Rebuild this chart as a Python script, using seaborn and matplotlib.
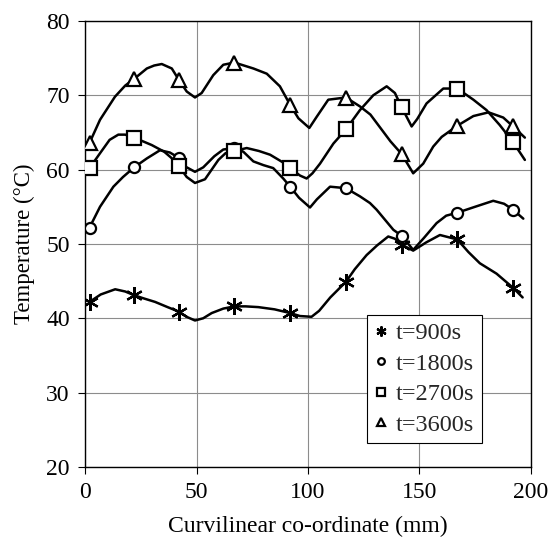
import numpy as np
import pandas as pd
import seaborn as sns
import matplotlib.pyplot as plt

x_marks = [2, 22, 42, 67, 92, 117, 142, 167, 192]
t900_marks = [42.2, 43.1, 40.9, 41.6, 40.7, 44.9, 49.9, 50.6, 44.1]
t1800_marks = [52.2, 60.3, 61.6, 62.9, 57.7, 57.5, 51.1, 54.2, 54.6]
t2700_marks = [60.2, 64.3, 60.5, 62.5, 60.2, 65.4, 68.4, 70.9, 63.7]
t3600_marks = [63.6, 72.2, 72.1, 74.4, 68.7, 69.6, 62.1, 65.9, 65.8]

t900_curve_x = [2, 7, 13.5, 18, 22, 26, 31.4, 37, 42, 45.5, 49.3, 53, 56.8, 62, 67, 72,
                77.7, 85, 92, 96.4, 101.6, 105, 110, 117, 121, 126.3, 131, 136, 139, 142,
                147.2, 153, 159.2, 167, 172, 177.1, 184.6, 192, 196.3]
t900_curve_y = [42.2, 43.2, 43.9, 43.6, 43.1, 42.7, 42.2, 41.5, 40.9, 40.2, 39.7, 40.0, 40.7,
                41.3, 41.6, 41.6, 41.5, 41.2, 40.7, 40.3, 40.2, 41.0, 42.8, 44.9, 46.6, 48.5,
                49.8, 51.0, 50.7, 49.9, 49.1, 50.2, 51.2, 50.6, 48.9, 47.4, 46.0, 44.1, 42.8]

t1800_curve_x = [2, 6.7, 12.7, 17, 22, 27.7, 33.6, 38, 42, 45, 49.3, 53, 58, 62, 67, 71,
                 75.5, 80, 84.4, 88.9, 92, 96, 100.9, 104, 109.9, 117, 123.3, 127.8, 130.8,
                 138.3, 142, 147.2, 152, 157.7, 162, 167, 175, 183.1, 188, 192, 196.6]
t1800_curve_y = [52.2, 55.0, 57.7, 59.0, 60.3, 61.5, 62.6, 62.3, 61.6, 60.4, 59.7, 60.3, 61.8,
                 62.7, 62.9, 62.4, 61.1, 60.6, 60.2, 58.8, 57.7, 56.2, 54.9, 56.0, 57.7, 57.5,
                 56.4, 55.5, 54.6, 51.9, 51.1, 49.2, 50.8, 52.8, 53.8, 54.2, 55.0, 55.8, 55.4,
                 54.6, 53.4]

t2700_curve_x = [2, 6.7, 11, 14.9, 18, 22, 29.9, 35.5, 39, 42, 45.6, 49.3, 53.8, 59.8, 63, 67,
                 72.5, 78, 83, 89.7, 92, 96.4, 99.4, 102, 105.4, 111.4, 117, 123.3, 129.3,
                 135.3, 139, 142, 146.5, 149, 153.2, 160.7, 167, 174.2, 180.1, 186, 192, 197.3]
t2700_curve_y = [60.2, 62.2, 64.0, 64.7, 64.7, 64.3, 63.3, 62.4, 61.5, 60.5, 59.0, 58.2, 58.7,
                 61.3, 62.2, 62.5, 62.9, 62.5, 62.0, 60.8, 60.2, 59.2, 58.8, 59.5, 60.8, 63.5,
                 65.4, 68.0, 70.0, 71.2, 70.3, 68.4, 65.8, 66.8, 68.9, 70.9, 70.9, 69.4, 68.0,
                 66.0, 63.7, 61.3]

t3600_curve_x = [2, 6.7, 13.4, 18, 22, 27.7, 31, 34.4, 38.9, 42, 45.6, 49.3, 52.3, 57.5, 62, 67,
                 75.5, 81.5, 87.4, 92, 95.7, 100.6, 103.9, 109.1, 117, 123.3, 128, 132.5, 137,
                 142, 147.2, 151.7, 156.2, 160, 167, 174.2, 181, 187.6, 192, 197.3]
t3600_curve_y = [63.6, 66.7, 69.8, 71.3, 72.2, 73.6, 74.0, 74.2, 73.6, 72.1, 70.5, 69.7, 70.3,
                 72.7, 74.1, 74.4, 73.6, 72.9, 71.2, 68.7, 66.9, 65.6, 67.1, 69.4, 69.7, 68.5,
                 67.4, 65.6, 63.8, 62.1, 59.5, 60.8, 63.1, 64.4, 65.9, 67.2, 67.7, 67.0, 65.8,
                 64.3]

labels = ["t=900s", "t=1800s", "t=2700s", "t=3600s"]
marks = [t900_marks, t1800_marks, t2700_marks, t3600_marks]
curves = [(t900_curve_x, t900_curve_y), (t1800_curve_x, t1800_curve_y),
          (t2700_curve_x, t2700_curve_y), (t3600_curve_x, t3600_curve_y)]
# asterisco, círculo, quadrado, triângulo
marker_styles = [((6, 2, 0), 12), ("o", 8), ("s", 10), ("^", 10)]

sns.set_theme(style="white")
plt.rcParams['font.family'] = ['Liberation Serif', 'DejaVu Serif']

fig, ax = plt.subplots(figsize=(5.49, 5.5), dpi=100)
fig.subplots_adjust(left=0.155, right=0.967, top=0.962, bottom=0.151)

for (cx, cy), ys, lab, (m, ms) in zip(curves, marks, labels, marker_styles):
    df_curva = pd.DataFrame({"x": cx, "y": cy})
    sns.lineplot(data=df_curva, x="x", y="y", ax=ax, color="black", lw=1.8,
                 sort=False, legend=False, zorder=3)
    df_pts = pd.DataFrame({"x": x_marks, "y": ys})
    ax.plot(df_pts["x"], df_pts["y"], linestyle="none", marker=m, markersize=ms,
            markerfacecolor="white", markeredgecolor="black", markeredgewidth=1.6,
            label=lab, zorder=4)

ax.set_xlim(0, 200)
ax.set_ylim(20, 80)
ax.set_xticks(np.arange(0, 201, 50))
ax.set_yticks(np.arange(20, 81, 10))
ax.grid(True, color="0.55", lw=0.8)
ax.set_axisbelow(True)
for s in ax.spines.values():
    s.set_color("black")
    s.set_linewidth(1.0)
ax.tick_params(axis="both", direction="out", length=5, width=0.8, colors="black",
               labelsize=17, pad=6, bottom=True, left=True)

ax.set_xlabel("Curvilinear co-ordinate (mm)", fontsize=17, labelpad=9, color="black")
ax.set_ylabel("Temperature (°C)", fontsize=16.5, labelpad=8, color="black")

leg = ax.legend(loc="lower left", bbox_to_anchor=(0.632, 0.054), fontsize=17.5,
                frameon=True, fancybox=False, edgecolor="black", framealpha=1,
                markerscale=0.6, handlelength=0.6, handletextpad=0.3,
                borderpad=0.3, labelspacing=0.35, borderaxespad=0)
leg.get_frame().set_linewidth(0.8)

plt.savefig("out.png", dpi=100)
plt.close()
